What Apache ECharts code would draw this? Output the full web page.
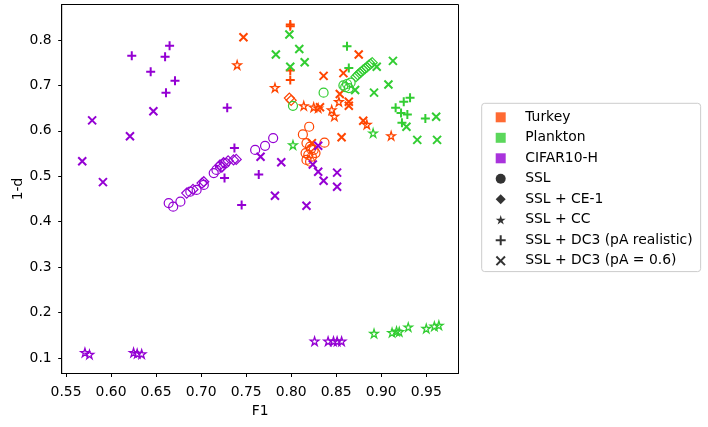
<!DOCTYPE html>
<html>
<head>
<meta charset="utf-8">
<script src="https://cdn.jsdelivr.net/npm/echarts@6/dist/echarts.min.js"></script>
<style>
  html, body { margin: 0; padding: 0; background: #fff; }
  #chart { width: 708px; height: 427px; }
</style>
</head>
<body>
<div id="chart"></div>
<script>
// scatter: F1 vs 1-d, three datasets x five methods

var xTicks = [0.55, 0.60, 0.65, 0.70, 0.75, 0.80, 0.85, 0.90, 0.95];
var yTicks = [0.1, 0.2, 0.3, 0.4, 0.5, 0.6, 0.7, 0.8];

var datasets = ['Turkey', 'Plankton', 'CIFAR10-H'];
var methods = ['SSL', 'SSL + CE-1', 'SSL + CC', 'SSL + DC3 (pA realistic)', 'SSL + DC3 (pA = 0.6)'];

// Turkey  [F1, 1-d]
var turkeySSL = [[0.820,0.609],[0.813,0.592],[0.837,0.574],[0.817,0.573],[0.821,0.565],[0.825,0.558],
  [0.816,0.551],[0.819,0.547],[0.823,0.543],[0.817,0.536],[0.821,0.532],[0.827,0.551],[0.822,0.560]];
var turkeyCE = [[0.798,0.672],[0.800,0.667]];
var turkeyCC = [[0.740,0.745],[0.782,0.695],[0.814,0.655],[0.825,0.652],[0.830,0.650],[0.845,0.646],
  [0.848,0.632],[0.853,0.664],[0.884,0.614],[0.911,0.589]];
var turkeyDC3real = [[0.799,0.834],[0.799,0.830],[0.799,0.733],[0.799,0.712]];
var turkeyDC3fix = [[0.747,0.806],[0.875,0.768],[0.858,0.727],[0.836,0.721],[0.854,0.681],[0.832,0.652],
  [0.864,0.664],[0.864,0.655],[0.880,0.622],[0.856,0.586],[0.823,0.573]];

// Plankton
var planktonSSL = [[0.802,0.655],[0.836,0.684],[0.858,0.700],[0.862,0.703],[0.866,0.706],[0.860,0.696],[0.864,0.694]];
var planktonCE = [[0.872,0.719],[0.874,0.723],[0.876,0.727],[0.878,0.730],[0.880,0.734],[0.882,0.737],
  [0.884,0.740],[0.886,0.744],[0.888,0.747],[0.890,0.750]];
var planktonCC = [[0.802,0.569],[0.891,0.595],[0.892,0.154],[0.912,0.156],[0.917,0.159],[0.920,0.158],
  [0.930,0.168],[0.950,0.165],[0.959,0.170],[0.964,0.172]];
var planktonDC3real = [[0.862,0.786],[0.864,0.738],[0.916,0.651],[0.925,0.664],[0.932,0.673],[0.922,0.639],
  [0.929,0.636],[0.923,0.618],[0.949,0.627]];
var planktonDC3fix = [[0.798,0.812],[0.783,0.768],[0.809,0.780],[0.815,0.751],[0.799,0.741],[0.895,0.741],
  [0.913,0.754],[0.871,0.690],[0.892,0.684],[0.908,0.702],[0.928,0.609],[0.961,0.631],[0.940,0.580],[0.962,0.580]];

// CIFAR10-H
var cifarSSL = [[0.664,0.441],[0.669,0.433],[0.677,0.444],[0.688,0.466],[0.695,0.470],[0.703,0.481],
  [0.714,0.507],[0.717,0.514],[0.721,0.521],[0.727,0.529],[0.760,0.558],[0.771,0.567],[0.780,0.584]];
var cifarCE = [[0.684,0.463],[0.691,0.471],[0.701,0.485],[0.703,0.488],[0.721,0.525],[0.723,0.520],
  [0.725,0.530],[0.730,0.534],[0.736,0.536],[0.739,0.537]];
var cifarCC = [[0.571,0.112],[0.576,0.108],[0.625,0.112],[0.629,0.110],[0.634,0.109],
  [0.826,0.137],[0.841,0.137],[0.847,0.137],[0.851,0.137],[0.856,0.137]];
var cifarDC3real = [[0.623,0.765],[0.665,0.787],[0.660,0.763],[0.644,0.730],[0.671,0.710],[0.661,0.684],
  [0.729,0.651],[0.737,0.562],[0.726,0.496],[0.764,0.504],[0.745,0.437]];
var cifarDC3fix = [[0.579,0.623],[0.647,0.643],[0.621,0.588],[0.568,0.533],[0.591,0.487],[0.766,0.543],
  [0.789,0.531],[0.782,0.457],[0.817,0.435],[0.830,0.567],[0.824,0.526],[0.830,0.510],[0.836,0.490],
  [0.851,0.508],[0.851,0.477]];

var values = [
  [turkeySSL, turkeyCE, turkeyCC, turkeyDC3real, turkeyDC3fix],
  [planktonSSL, planktonCE, planktonCC, planktonDC3real, planktonDC3fix],
  [cifarSSL, cifarCE, cifarCC, cifarDC3real, cifarDC3fix]
];

var colors = ['#ff4500', '#32cd32', '#9400d3'];

var STAR = 'path://M10,0L12.23,6.93L19.51,6.91L13.61,11.17L15.88,18.09L10,13.8L4.12,18.09L6.39,11.17L0.49,6.91L7.77,6.93Z';
var PLUS_LINE = 'path://M0,5L10,5M5,0L5,10';
var X_LINE = 'path://M0,0L10,10M10,0L0,10';
var SQUARE = 'path://M0,0L10,0L10,10L0,10Z';
var DIAMOND = 'path://M5,0L10,5L5,10L0,5Z';
var PLUS_FILL = 'path://M4,0L6,0L6,4L10,4L10,6L6,6L6,10L4,10L4,6L0,6L0,4L4,4Z';
var X_FILL = 'path://M1.4,0L5,3.6L8.6,0L10,1.4L6.4,5L10,8.6L8.6,10L5,6.4L1.4,10L0,8.6L3.6,5L0,1.4Z';

// marker per method (plot), and icon per method (legend)
var markers = [
  { symbol: 'circle', size: 9, width: 1.2 },
  { symbol: 'diamond', size: 10, width: 1.2 },
  { symbol: STAR, size: 8.5, width: 1.3 },
  { symbol: PLUS_LINE, size: 9, width: 2 },
  { symbol: X_LINE, size: 8, width: 2 }
];
var legendIcons = ['circle', DIAMOND, STAR, PLUS_FILL, X_FILL];

var series = [];
datasets.forEach(function (ds, i) {
  methods.forEach(function (m, j) {
    var mk = markers[j];
    series.push({
      name: ds + ' / ' + m,
      type: 'scatter',
      data: values[i][j],
      symbol: mk.symbol,
      symbolSize: mk.size,
      itemStyle: { color: 'rgba(0,0,0,0)', borderColor: colors[i], borderWidth: mk.width, opacity: 1 },
      emphasis: { disabled: true }
    });
  });
});

// empty series only for the legend
var legendData = [];
datasets.forEach(function (ds, i) {
  series.push({ name: ds, type: 'scatter', data: [], itemStyle: { color: colors[i] } });
  legendData.push({ name: ds, icon: SQUARE });
});
methods.forEach(function (m, j) {
  series.push({ name: m, type: 'scatter', data: [], itemStyle: { color: '#000' } });
  legendData.push({ name: m, icon: legendIcons[j] });
});

var font = 'DejaVu Sans';
var fs = 13.9;
var chart = echarts.init(document.getElementById('chart'), null, { renderer: 'canvas' });
var option = {
  animation: false,
  backgroundColor: '#fff',
  textStyle: { fontFamily: font },
  grid: {
    left: 61.7, right: 249.5, top: 4.5, bottom: 53.5,
    outerBoundsMode: 'none',
    containLabel: false,
    show: true, borderColor: '#000', borderWidth: 1, backgroundColor: 'rgba(0,0,0,0)'
  },
  legend: {
    data: legendData,
    orient: 'vertical',
    left: 481.7,
    top: 103.3,
    itemWidth: 10,
    itemHeight: 10,
    itemGap: 6.5,
    padding: [7, 8, 3.8, 14],
    borderColor: '#cccccc',
    borderWidth: 1,
    borderRadius: 3,
    selectedMode: false,
    textStyle: { fontFamily: font, fontSize: fs, color: '#000', padding: [0, 0, 0, 14.5] }
  },
  xAxis: {
    type: 'value',
    min: 0.5452,
    max: 0.9858,
    name: 'F1',
    nameLocation: 'middle',
    nameGap: 27,
    nameTextStyle: { fontFamily: font, fontSize: fs, color: '#000' },
    axisLine: { onZero: false, lineStyle: { color: '#000', width: 1 } },
    axisTick: { show: true, length: 3.5, inside: false, customValues: xTicks, lineStyle: { color: '#000' } },
    axisLabel: {
      customValues: xTicks, margin: 12, fontSize: fs, color: '#000', fontFamily: font,
      formatter: function (v) { return v.toFixed(2); }
    },
    splitLine: { show: false }
  },
  yAxis: {
    type: 'value',
    min: 0.0659,
    max: 0.878,
    name: '1-d',
    nameLocation: 'middle',
    nameGap: 36,
    nameMoveOverlap: false,
    nameTextStyle: { fontFamily: font, fontSize: fs, color: '#000' },
    axisLine: { onZero: false, lineStyle: { color: '#000', width: 1 } },
    axisTick: { show: true, length: 3.5, inside: false, customValues: yTicks, lineStyle: { color: '#000' } },
    axisLabel: {
      customValues: yTicks, margin: 10, fontSize: fs, color: '#000', fontFamily: font,
      formatter: function (v) { return v.toFixed(1); }
    },
    splitLine: { show: false }
  },
  series: series
};
chart.setOption(option);
</script>
</body>
</html>
